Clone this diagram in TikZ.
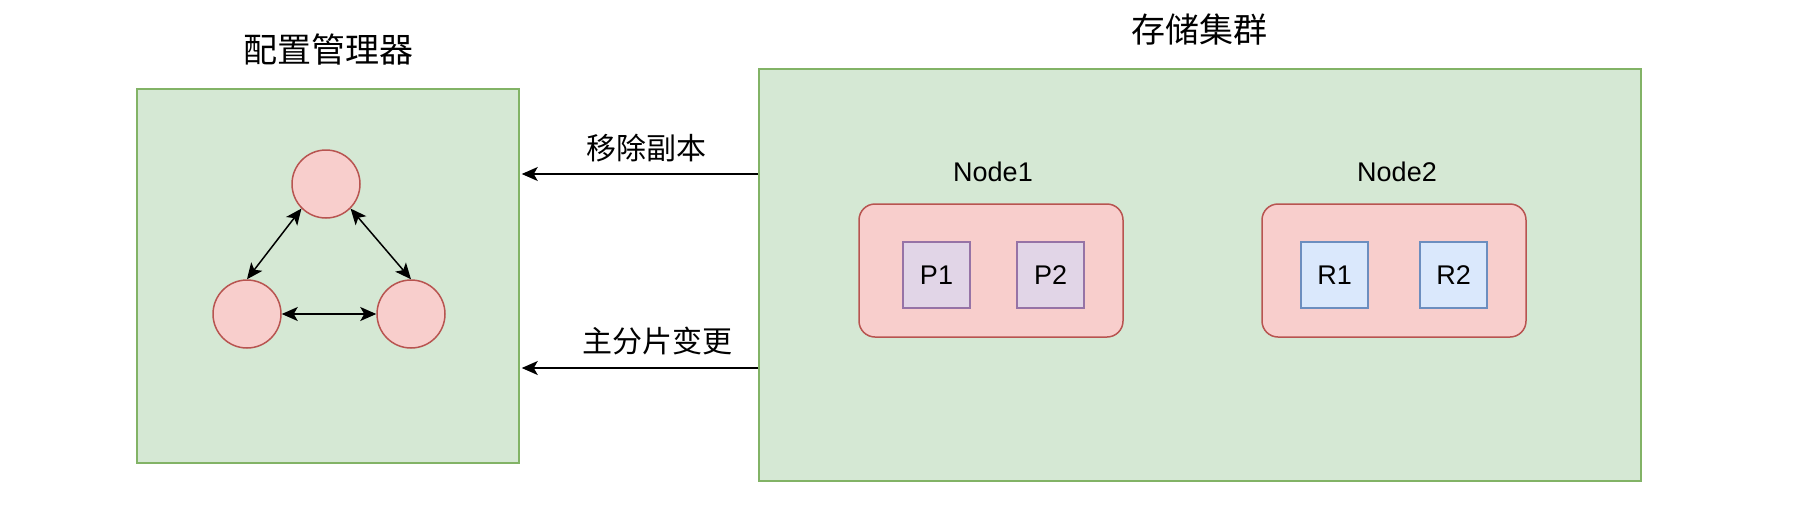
\documentclass[tikz,border=0pt]{standalone}
\usepackage{fontspec}
\setmainfont{Liberation Sans}
\newfontfamily\cjk{Noto Sans CJK SC}
\usetikzlibrary{arrows.meta,positioning}
\definecolor{greenfill}{HTML}{D5E8D4}
\definecolor{greenline}{HTML}{82B366}
\definecolor{redfill}{HTML}{F8CECC}
\definecolor{redline}{HTML}{B85450}
\definecolor{purplefill}{HTML}{E1D5E7}
\definecolor{purpleline}{HTML}{9673A6}
\definecolor{bluefill}{HTML}{DAE8FC}
\definecolor{blueline}{HTML}{6C8EBF}
\begin{document}
\begin{tikzpicture}
            [x=1pt, y=-1pt,
             group/.style = {draw=greenline, fill=greenfill, line width=1.5pt, inner sep=0pt},
             member/.style = {circle, draw=redline, fill=redfill, line width=1.5pt, minimum size=68pt, inner sep=0pt},
             host/.style = {rounded corners=16pt, draw=redline, fill=redfill, line width=1.5pt,
                            minimum width=264pt, minimum height=133pt, inner sep=0pt},
             primary/.style = {draw=purpleline, fill=purplefill, line width=1.5pt, minimum width=67pt,
                               minimum height=66pt, inner sep=0pt, font=\fontsize{27}{30}\selectfont},
             replica/.style = {primary, draw=blueline, fill=bluefill},
             title/.style = {font=\cjk\fontsize{34}{40}\selectfont},
             msg/.style = {font=\cjk\fontsize{30}{36}\selectfont},
             hostname/.style = {font=\fontsize{27}{30}\selectfont},
             link/.style = {line width=1.5pt, {Stealth[length=16pt,width=14pt,inset=4pt]}-{Stealth[length=16pt,width=14pt,inset=4pt]}},
             call/.style = {line width=1.5pt, -{Stealth[length=16pt,width=14pt,inset=4pt]}}]
            \fill[white] (0,0) rectangle (1807,512);
            \useasboundingbox (0,0) rectangle (1807,512);
            % config manager
            \node[group, minimum width=382pt, minimum height=374pt] (manager) at (328,276) {};
            \node[title] (managertitle) at (328,50) {配置管理器};
            \node[member] (top) at (326,184) {};
            \node[member] (left) at (247,314) {};
            \node[member] (right) at (411,314) {};
            \draw[link] (top.south west) -- (left.north);
            \draw[link] (top.south east) -- (right.north);
            \draw[link] (left.east) -- (right.west);
            % storage cluster
            \node[group, minimum width=882pt, minimum height=412pt] (cluster) at (1200,275) {};
            \node[title] (clustertitle) at (1199,30) {存储集群};
            \node[host] (node1) at (991,270.5) {};
            \node[hostname] (node1name) at (993,172) {Node1};
            \node[primary] (p1) at (936.5,275) {P1};
            \node[primary] (p2) at (1050.5,275) {P2};
            \node[host] (node2) at (1394,270.5) {};
            \node[hostname] (node2name) at (1397,172) {Node2};
            \node[replica] (r1) at (1334.5,275) {R1};
            \node[replica] (r2) at (1453.5,275) {R2};
            % messages
            \draw[call, shorten >=2pt] (cluster.west |- 0,174) -- (manager.east |- 0,174);
            \node[msg] (remove) at (646,148) {移除副本};
            \draw[call, shorten >=2pt] (cluster.west |- 0,368) -- (manager.east |- 0,368);
            \node[msg] (change) at (657,341) {主分片变更};
        \end{tikzpicture}
\end{document}
